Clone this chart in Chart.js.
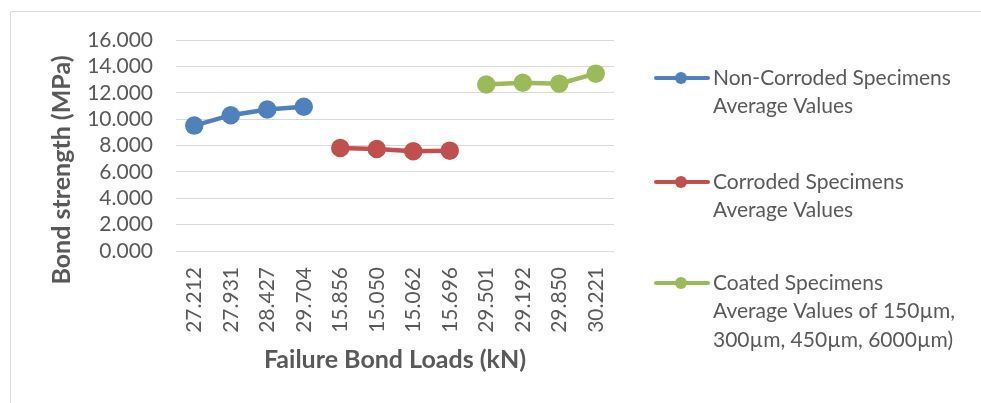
<!DOCTYPE html>
<html>
<head>
<meta charset="utf-8">
<script src="https://cdn.jsdelivr.net/npm/chart.js@4/dist/chart.umd.min.js"></script>
<style>
  html, body { margin: 0; padding: 0; background: #fff; }
  #wrap { width: 981px; height: 403px; position: relative; }
</style>
</head>
<body>
<div id="wrap"><canvas id="c" width="981" height="403"></canvas></div>
<script>
// Failure bond loads (kN) used as category labels
const loads = ['27.212', '27.931', '28.427', '29.704', '15.856', '15.050',
               '15.062', '15.696', '29.501', '29.192', '29.850', '30.221'];

// Bond strength (MPa) per specimen group
const nonCorroded = [9.51, 10.30, 10.73, 10.94, null, null, null, null, null, null, null, null];
const corroded    = [null, null, null, null, 7.81, 7.74, 7.56, 7.61, null, null, null, null];
const coated      = [null, null, null, null, null, null, null, null, 12.63, 12.76, 12.69, 13.45];

const seriesNames = [
  ['Non-Corroded Specimens', 'Average Values'],
  ['Corroded Specimens', 'Average Values'],
  ['Coated Specimens', 'Average Values of 150µm,', '300µm, 450µm, 6000µm)']
];

const yTicks = { min: 0, max: 16, step: 2 };

const FONT = 'Lato, "Open Sans", sans-serif';
const TEXT = '#595959';
const GRID = '#d9d9d9';
const colors = ['#4F81BD', '#C0504D', '#9BBB59'];

// Frame, axis titles and side legend
const decor = {
  id: 'decor',
  beforeDraw(chart) {
    const ctx = chart.ctx;
    ctx.save();
    ctx.strokeStyle = GRID;
    ctx.lineWidth = 1;
    ctx.beginPath();
    ctx.moveTo(10.5, 403);
    ctx.lineTo(10.5, 11.5);
    ctx.lineTo(981, 11.5);
    ctx.stroke();
    ctx.restore();
  },
  afterDraw(chart) {
    const ctx = chart.ctx;
    const area = chart.chartArea;
    ctx.save();
    ctx.fillStyle = TEXT;
    ctx.font = 'bold 25px ' + FONT;
    ctx.textAlign = 'center';
    ctx.textBaseline = 'middle';
    // y title
    ctx.save();
    ctx.translate(62, 170);
    ctx.rotate(-Math.PI / 2);
    ctx.fillText('Bond strength (MPa)', 0, 0);
    ctx.restore();
    // x title
    ctx.fillText('Failure Bond Loads (kN)', (area.left + area.right) / 2, 360);

    // legend
    const starts = [78, 182, 283];
    const lineGap = 28.5;
    ctx.font = '21px ' + FONT;
    ctx.textAlign = 'left';
    chart.data.datasets.forEach((ds, i) => {
      const y = starts[i];
      ctx.strokeStyle = ds.borderColor;
      ctx.lineWidth = 4;
      ctx.lineCap = 'round';
      ctx.beginPath();
      ctx.moveTo(656, y);
      ctx.lineTo(708, y);
      ctx.stroke();
      ctx.fillStyle = ds.borderColor;
      ctx.beginPath();
      ctx.arc(681, y, 6, 0, Math.PI * 2);
      ctx.fill();
      ctx.fillStyle = TEXT;
      seriesNames[i].forEach((t, k) => ctx.fillText(t, 713, y + k * lineGap));
    });
    ctx.restore();
  }
};

const mk = (label, data, color) => ({
  label, data,
  borderColor: color, backgroundColor: color,
  pointBackgroundColor: color, pointBorderColor: color,
  borderWidth: 4.5, pointRadius: 7, pointHoverRadius: 7,
  spanGaps: false, tension: 0
});

new Chart(document.getElementById('c'), {
  type: 'line',
  data: {
    labels: loads,
    datasets: [
      mk(seriesNames[0].join(' '), nonCorroded, colors[0]),
      mk(seriesNames[1].join(' '), corroded, colors[1]),
      mk(seriesNames[2].join(' '), coated, colors[2])
    ]
  },
  options: {
    responsive: false,
    animation: false,
    events: [],
    layout: { padding: { left: 0, top: 40, right: 367, bottom: 0 } },
    plugins: { legend: { display: false }, tooltip: { enabled: false } },
    scales: {
      x: {
        offset: true,
        grid: { display: false, drawTicks: false, offset: true },
        border: { display: false },
        ticks: {
          color: TEXT, font: { family: FONT, size: 21 },
          minRotation: 90, maxRotation: 90, padding: 16, autoSkip: false
        },
        afterFit(s) { s.height = 152; }
      },
      y: {
        min: yTicks.min, max: yTicks.max,
        grid: { color: GRID, lineWidth: 1, drawTicks: false },
        border: { display: false },
        ticks: {
          stepSize: yTicks.step, color: TEXT, padding: 23, autoSkip: false,
          font: { family: FONT, size: 21 },
          callback: v => Number(v).toFixed(3)
        },
        afterFit(s) { s.width = 176; }
      }
    }
  },
  plugins: [decor]
});
</script>
</body>
</html>
